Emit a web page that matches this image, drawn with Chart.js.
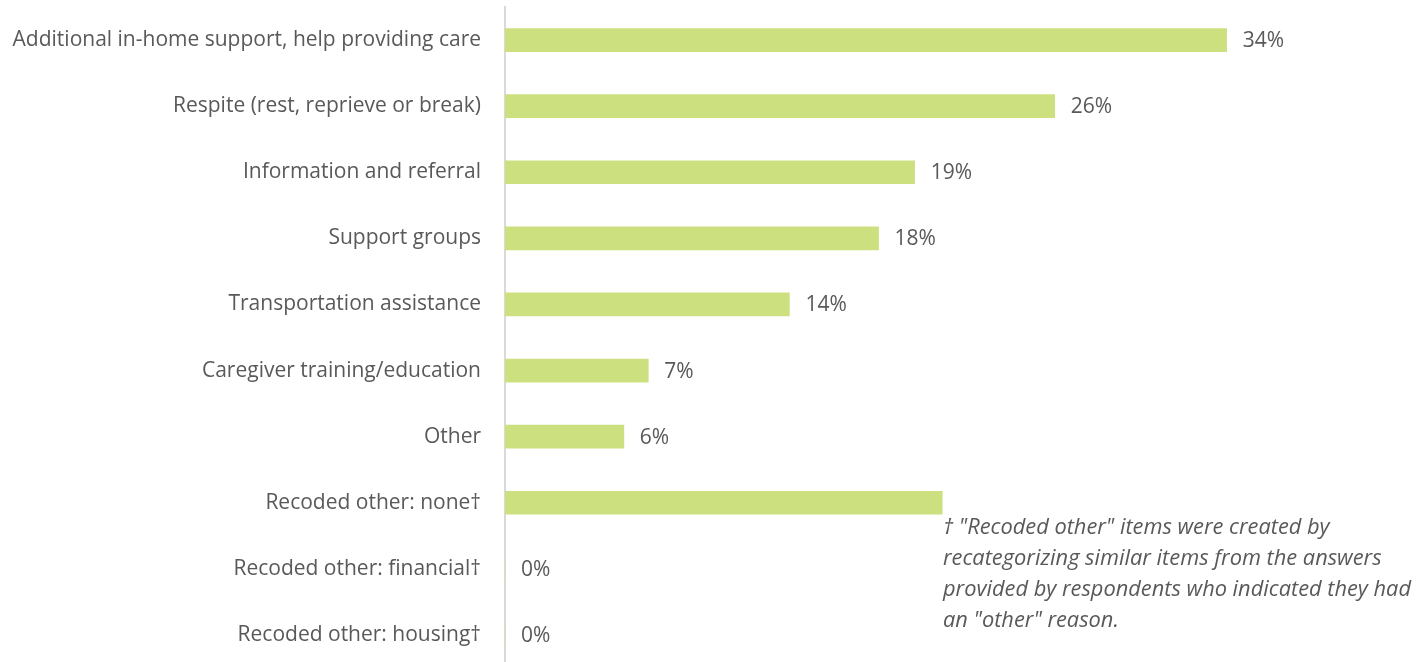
<!DOCTYPE html>
<html>
<head>
<meta charset="utf-8">
<script src="https://cdn.jsdelivr.net/npm/chart.js@4/dist/chart.umd.min.js"></script>
<style>
    html, body { margin: 0; padding: 0; background: #fff; overflow: hidden; }
    #wrap { position: relative; width: 1422px; height: 662px; overflow: hidden; }
    #myChart { position: absolute; left: 0; top: 0; }
    #note {
        position: absolute; left: 943px; top: 510px; white-space: nowrap;
        font-family: "Open Sans", sans-serif; font-style: italic; font-size: 21.8px;
        line-height: 31px; color: #595959;
    }
</style>
</head>
<body>
<div id="wrap">
    <canvas id="myChart" width="1422" height="670"></canvas>
    <div id="note">† "Recoded other" items were created by<br>recategorizing similar items from the answers<br>provided by respondents who indicated they had<br>an "other" reason.</div>
</div>
<script>
// Du lieu doc tu hinh
const categories = [
    "Additional in-home support, help providing care",
    "Respite (rest, reprieve or break)",
    "Information and referral",
    "Support groups",
    "Transportation assistance",
    "Caregiver training/education",
    "Other",
    "Recoded other: none†",
    "Recoded other: financial†",
    "Recoded other: housing†"
];
const values = [34, 25.9, 19.3, 17.6, 13.4, 6.75, 5.6, 20.6, 0, 0];
const valueLabels = ["34%", "26%", "19%", "18%", "14%", "7%", "6%", "", "0%", "0%"];

const textColor = "#595959";
const barColor = "#cde07f";
const fontFamily = "'Open Sans'";

// Ve nhan gia tri sau moi thanh
const barLabels = {
    id: "barLabels",
    afterDatasetsDraw(chart) {
        const ctx = chart.ctx;
        const meta = chart.getDatasetMeta(0);
        ctx.save();
        ctx.font = "21px " + fontFamily;
        ctx.fillStyle = textColor;
        ctx.textAlign = "left";
        ctx.textBaseline = "middle";
        meta.data.forEach((bar, i) => {
            if (!valueLabels[i]) return;
            ctx.fillText(valueLabels[i], bar.x + 16, bar.y + 1);
        });
        ctx.restore();
    }
};

const ctx = document.getElementById("myChart").getContext("2d");
const myChart = new Chart(ctx, {
    type: "bar",
    data: {
        labels: categories,
        datasets: [{
            data: values,
            backgroundColor: barColor,
            barThickness: 23
        }]
    },
    plugins: [barLabels],
    options: {
        indexAxis: "y",
        animation: false,
        responsive: false,
        layout: { padding: { top: 7, bottom: 2, left: 0, right: 68 } },
        plugins: {
            legend: { display: false },
            tooltip: { enabled: false }
        },
        scales: {
            x: {
                display: false,
                min: 0,
                max: 40
            },
            y: {
                afterFit: (s) => {
                    s.width = 505;
                    // bo khoang dem tren/duoi do ticks.padding gay ra
                    s.paddingTop = 0;
                    s.paddingBottom = 0;
                },
                grid: { display: false, drawTicks: false },
                border: { display: true, color: "#d9d9d9", width: 2 },
                ticks: {
                    padding: 24,
                    color: textColor,
                    font: { family: fontFamily, size: 21 }
                }
            }
        }
    }
});
</script>
</body>
</html>
